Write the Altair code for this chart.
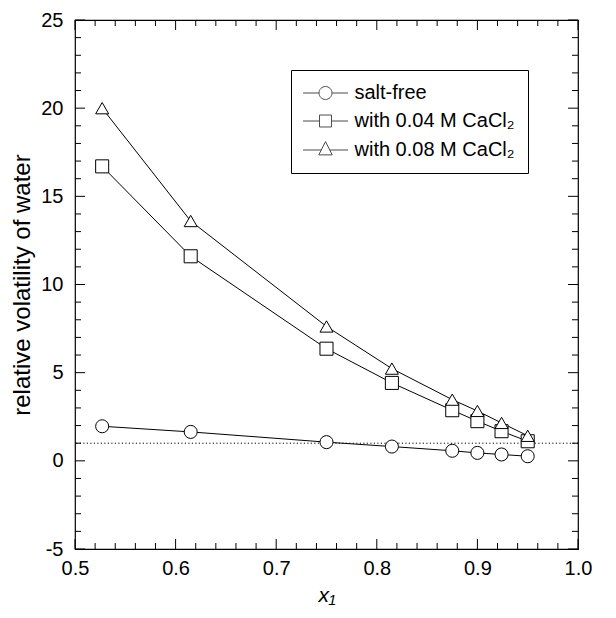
import altair as alt
import pandas as pd

# ---- data ----
x1 = [0.527, 0.615, 0.75, 0.815, 0.875, 0.9, 0.924, 0.95]
salt_free = [1.96, 1.64, 1.06, 0.81, 0.57, 0.45, 0.36, 0.26]
cacl2_004 = [16.7, 11.6, 6.36, 4.42, 2.87, 2.25, 1.68, 1.11]
cacl2_008 = [20.0, 13.6, 7.62, 5.23, 3.47, 2.83, 2.15, 1.42]
series_names = ["salt-free", "with 0.04 M CaCl₂", "with 0.08 M CaCl₂"]
marker_shapes = ["circle", "square", "triangle-up"]

x_major = [0.5, 0.6, 0.7, 0.8, 0.9, 1.0]
x_minor = [0.52, 0.54, 0.56, 0.58, 0.62, 0.64, 0.66, 0.68, 0.72, 0.74, 0.76, 0.78,
           0.82, 0.84, 0.86, 0.88, 0.92, 0.94, 0.96, 0.98]
y_major = [-5, 0, 5, 10, 15, 20, 25]
y_minor = [v for v in range(-5, 26) if v % 5 != 0]
ref_level = [1]

# legend glyphs: line segment with marker in the middle
legend_paths = [
    "M -3.46 0 L -1 0 M 1 0 L 3.46 0 M 1 0 A 1 1 0 1 1 -1 0 A 1 1 0 1 1 1 0 Z",
    "M -3.46 0 L -0.92 0 M 0.92 0 L 3.46 0 M -0.92 -0.92 L 0.92 -0.92 L 0.92 0.92 L -0.92 0.92 Z",
    "M -3.46 0 L -0.65 0 M 0.65 0 L 3.46 0 M 0 -1.3 L 1.03 0.75 L -1.03 0.75 Z",
]

rows = []
for name, vals in zip(series_names, [salt_free, cacl2_004, cacl2_008]):
    for xv, yv in zip(x1, vals):
        rows.append({"x1": xv, "value": yv, "series": name})
df = pd.DataFrame(rows)

W, H = 503, 529
FONT = "Liberation Sans"
xscale = alt.Scale(domain=[0.5, 1.0], nice=False, zero=False)
yscale = alt.Scale(domain=[-5, 25], nice=False, zero=False)

x_axis = alt.Axis(values=x_major, format=".1f", title="x₁", ticks=False, domain=False,
                  grid=False, labelPadding=9, titlePadding=6, titleFontStyle="italic",
                  titleFontWeight="normal", labelFlush=False, titleFontSize=21)
y_axis = alt.Axis(values=y_major, title="relative volatility of water",
                  labelExpr="datum.value < 0 ? '-' + abs(datum.value) : '' + datum.value",
                  ticks=False, domain=False, grid=False, labelPadding=12, titlePadding=6,
                  titleFontWeight="normal", labelFlush=False, titleFontSize=24)

layers = []

lines = alt.Chart(df).mark_line(color="black", strokeWidth=1).encode(
    x=alt.X("x1:Q", scale=xscale, axis=x_axis),
    y=alt.Y("value:Q", scale=yscale, axis=y_axis),
    detail="series:N",
)
layers.append(lines)

# inward ticks on all four sides
def y_tick_layers(vals, length):
    d = pd.DataFrame({"value": vals})
    base = alt.Chart(d).mark_rule(color="black", strokeWidth=1)
    enc_y = alt.Y("value:Q", scale=yscale, axis=y_axis)
    return [
        base.encode(y=enc_y, x=alt.value(0), x2=alt.value(length)),
        base.encode(y=enc_y, x=alt.value(W - length), x2=alt.value(W)),
    ]

def x_tick_layers(vals, length):
    d = pd.DataFrame({"x1": vals})
    base = alt.Chart(d).mark_rule(color="black", strokeWidth=1)
    enc_x = alt.X("x1:Q", scale=xscale, axis=x_axis)
    return [
        base.encode(x=enc_x, y=alt.value(H - length), y2=alt.value(H)),
        base.encode(x=enc_x, y=alt.value(0), y2=alt.value(length)),
    ]

layers += y_tick_layers(y_major, 10)
layers += y_tick_layers(y_minor, 6)
layers += x_tick_layers(x_major, 10)
layers += x_tick_layers(x_minor, 6)

# dotted reference line at 1
ref = alt.Chart(pd.DataFrame({"value": ref_level})).mark_rule(
    color="black", strokeWidth=1, strokeDash=[1.2, 2.3]
).encode(y=alt.Y("value:Q", scale=yscale, axis=y_axis))
layers.append(ref)

points = alt.Chart(df).mark_point(
    filled=True, fill="white", stroke="black", strokeWidth=1, opacity=1, size=170
).encode(
    x=alt.X("x1:Q", scale=xscale, axis=x_axis),
    y=alt.Y("value:Q", scale=yscale, axis=y_axis),
    shape=alt.Shape("series:N", scale=alt.Scale(domain=series_names, range=marker_shapes),
                    legend=None),
)
layers.append(points)

# legend source: same series, shifted outside the clipped plot so only its legend shows
legend_src = alt.Chart(df).transform_calculate(off="datum.value + 1000").mark_point(
    filled=False, color="black", strokeWidth=1, clip=True
).encode(
    x=alt.X("x1:Q", scale=xscale, axis=x_axis),
    y=alt.Y("off:Q", scale=yscale, axis=y_axis),
    shape=alt.Shape(
        "series:N",
        scale=alt.Scale(domain=series_names, range=legend_paths),
        legend=alt.Legend(
            title=None, orient="none", legendX=216, legendY=50,
            padding=13, strokeColor="black", fillColor="white",
            labelFont=FONT, labelFontSize=20, labelColor="black", labelLimit=400,
            symbolSize=169, symbolStrokeColor="black", symbolFillColor="white",
            symbolStrokeWidth=1, symbolOffset=11.5, labelOffset=19,
            rowPadding=8,
        ),
    ),
)
layers.append(legend_src)

chart = alt.layer(*layers).resolve_scale(shape="independent").properties(
    width=W, height=H,
    autosize=alt.AutoSizeParams(type="none"),
    padding={"left": 75, "top": 20, "right": 38, "bottom": 69},
    background="white",
).configure_view(stroke="black", strokeWidth=1.2).configure_axis(
    labelFont=FONT, titleFont=FONT, labelFontSize=20,
    labelColor="black", titleColor="black",
)

chart.save("out.html", embed_options={"renderer": "svg", "actions": False})
